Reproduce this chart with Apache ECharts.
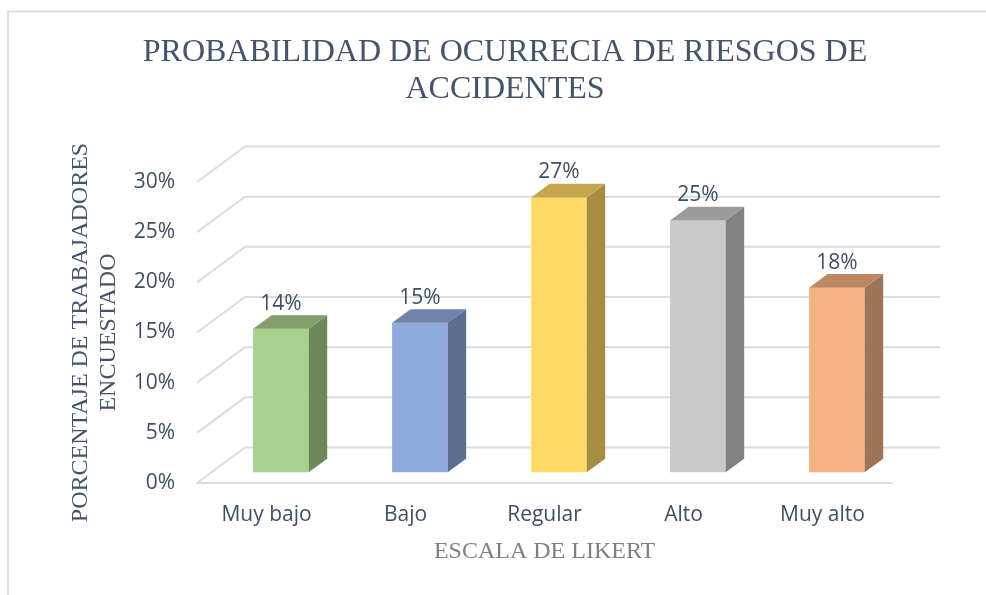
<!DOCTYPE html>
<html lang="es">
<head>
<meta charset="UTF-8">
<title>Probabilidad de ocurrencia</title>
<script src="https://cdn.jsdelivr.net/npm/echarts@6/dist/echarts.min.js"></script>
<style>
  html, body { margin: 0; padding: 0; background: #fff; }
  #main { width: 986px; height: 595px; }
</style>
</head>
<body>
<div id="main"></div>
<script>
var categories = ['Muy bajo', 'Bajo', 'Regular', 'Alto', 'Muy alto'];
var values = [0.143, 0.149, 0.274, 0.251, 0.184];
var yTicks = [0, 0.05, 0.10, 0.15, 0.20, 0.25, 0.30];

var frontColors = ['#A9D18E', '#8FAADC', '#FFD966', '#C9C9C9', '#F4B183'];
var sideColors = ['#6E885C', '#5D6F8F', '#A68D42', '#828282', '#9F7355'];
var topColors = ['#829F6D', '#6E83A9', '#C4A64F', '#9B9B9B', '#BC8864'];

// oblique depth of the floor (px), bar placement inside it
var DX = 48, DY = -35.5;
var BAR_FRONT = 0.3, BAR_DEPTH = 0.385, BAR_W = 0.4;
var textColor = '#3F4F66';
var gridColor = '#d9dce3';

var myChart = echarts.init(document.getElementById('main'));

function renderGrid(params, api) {
    var cs = params.coordSys;
    var y = api.coord([0, api.value(1)])[1];
    var x0 = cs.x, x1 = cs.x + cs.width;
    return {
        type: 'polyline',
        shape: { points: [[x0, y], [x0 + DX, y + DY], [x1 + DX, y + DY]] },
        style: { stroke: gridColor, lineWidth: 2, fill: null }
    };
}

function renderBar(params, api) {
    var i = api.value(0), v = api.value(1);
    var base = api.coord([i, 0]);
    var top = api.coord([i, v]);
    var w = api.size([1, 0])[0] * BAR_W;
    var x0 = base[0] - w / 2 + BAR_FRONT * DX, x1 = x0 + w;
    var yb = base[1] + BAR_FRONT * DY, yt = top[1] + BAR_FRONT * DY;
    var sx = BAR_DEPTH * DX, sy = BAR_DEPTH * DY;
    return {
        type: 'group',
        children: [
            {
                type: 'rect',
                shape: { x: x0, y: yt, width: w, height: yb - yt },
                style: { fill: frontColors[i] }
            },
            {
                type: 'polygon',
                shape: { points: [[x1, yb], [x1, yt], [x1 + sx, yt + sy], [x1 + sx, yb + sy]] },
                style: { fill: sideColors[i] }
            },
            {
                type: 'polygon',
                shape: { points: [[x0, yt], [x1, yt], [x1 + sx, yt + sy], [x0 + sx, yt + sy]] },
                style: { fill: topColors[i] }
            },
            {
                type: 'text',
                style: {
                    text: Math.round(v * 100) + '%',
                    x: x0 + w / 2,
                    y: yt + sy - 1,
                    align: 'center',
                    verticalAlign: 'bottom',
                    fill: textColor,
                    font: '21px "Open Sans"'
                }
            }
        ]
    };
}

var option = {
    animation: false,
    title: {
        text: 'PROBABILIDAD DE OCURRECIA DE RIESGOS DE\nACCIDENTES',
        left: 500,
        top: 29,
        textAlign: 'center',
        textStyle: {
            fontFamily: 'Liberation Serif',
            fontSize: 32,
            fontWeight: 'normal',
            color: '#44546A',
            lineHeight: 37
        }
    },
    graphic: [{
        type: 'rect',
        shape: { x: 8, y: 11.5, width: 1000, height: 620 },
        style: { fill: null, stroke: '#dde1e6', lineWidth: 2 },
        z: -1
    }],
    grid: { left: 197, right: 94, top: 182, bottom: 112 },
    xAxis: {
        type: 'category',
        data: categories,
        name: 'ESCALA DE LIKERT',
        nameLocation: 'middle',
        nameGap: 57,
        nameTextStyle: { fontFamily: 'Liberation Serif', fontSize: 24, color: '#808080' },
        axisLine: { show: true, lineStyle: { color: gridColor, width: 2 } },
        axisTick: { show: false },
        axisLabel: { margin: 22, fontFamily: 'Open Sans', fontSize: 21, color: textColor }
    },
    yAxis: {
        type: 'value',
        min: 0,
        max: yTicks[yTicks.length - 1],
        interval: 0.05,
        name: 'PORCENTAJE DE TRABAJADORES\nENCUESTADO',
        nameLocation: 'middle',
        nameGap: 74,
        nameTextStyle: { fontFamily: 'Liberation Serif', fontSize: 24, color: '#44546A', lineHeight: 28 },
        axisLine: { show: false },
        axisTick: { show: false },
        splitLine: { show: false },
        axisLabel: {
            margin: 22,
            fontFamily: 'Open Sans',
            fontSize: 21,
            color: textColor,
            formatter: function (val) { return Math.round(val * 100) + '%'; }
        }
    },
    series: [
        {
            type: 'custom',
            renderItem: renderGrid,
            data: yTicks.map(function (t) { return [0, t]; }),
            silent: true,
            z: 1
        },
        {
            type: 'custom',
            renderItem: renderBar,
            data: values.map(function (v, i) { return [i, v]; }),
            z: 2
        }
    ]
};

myChart.setOption(option);
</script>
</body>
</html>
